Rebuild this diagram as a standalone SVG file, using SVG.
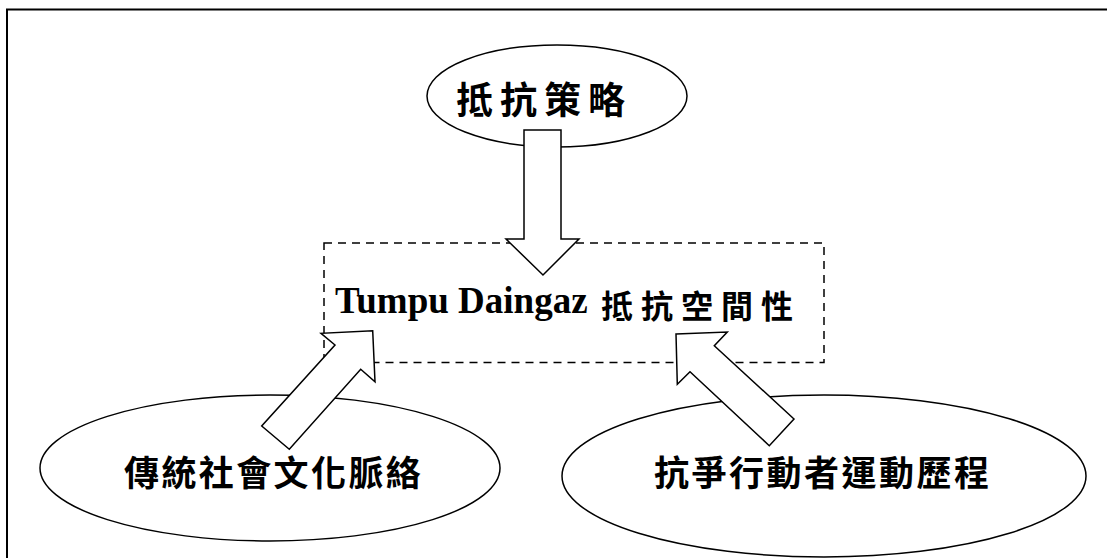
<svg xmlns="http://www.w3.org/2000/svg" width="1107" height="558" viewBox="0 0 1107 558">
<style>
.ell{fill:#fff;stroke:#000;stroke-width:1.5}
.arr{fill:#fff;stroke:#000;stroke-width:1.5;stroke-linejoin:miter}
.cjk{font-family:"Noto Sans CJK TC","Noto Sans CJK SC",sans-serif;font-weight:700;fill:#000}
.lat{font-family:"Liberation Serif","Times New Roman",serif;font-weight:bold;fill:#000}
</style>
<rect width="1107" height="558" fill="#fff"/>
<path d="M7,558 V9.5 H1107" fill="none" stroke="#000" stroke-width="2"/>
<g id="center">
<rect x="324" y="243" width="500" height="119.5" fill="none" stroke="#000" stroke-width="1.5" stroke-dasharray="8 6"/>
<text x="335" y="313" class="lat" font-size="37">Tumpu Daingaz</text>
<text x="601" y="318" class="cjk" font-size="32" letter-spacing="8">抵抗空間性</text>
</g>
<g id="top">
<ellipse class="ell" cx="557" cy="96" rx="130" ry="51"/>
<text x="456" y="114" class="cjk" font-size="37" letter-spacing="7">抵抗策略</text>
</g>
<g id="left">
<ellipse class="ell" cx="270" cy="468" rx="230" ry="73"/>
<text x="124" y="486" class="cjk" font-size="35" letter-spacing="2.4">傳統社會文化脈絡</text>
</g>
<g id="right">
<ellipse class="ell" cx="824" cy="476" rx="262" ry="81"/>
<text x="654" y="486" class="cjk" font-size="35" letter-spacing="2.5">抗爭行動者運動歷程</text>
</g>
<g id="connectors">
<polygon class="arr" points="524,130 561,130 561,239 579,239 543,275 506,239 524,239"/>
<polygon class="arr" points="372.7,330.7 375,381.7 360.7,369.3 289.3,449.3 261.7,426 335,345 321,333.3"/>
<polygon class="arr" points="676,334 727.3,332 714.3,345.7 794,419 769.3,445.7 690,371.7 677.3,384.3"/>
</g>
</svg>
